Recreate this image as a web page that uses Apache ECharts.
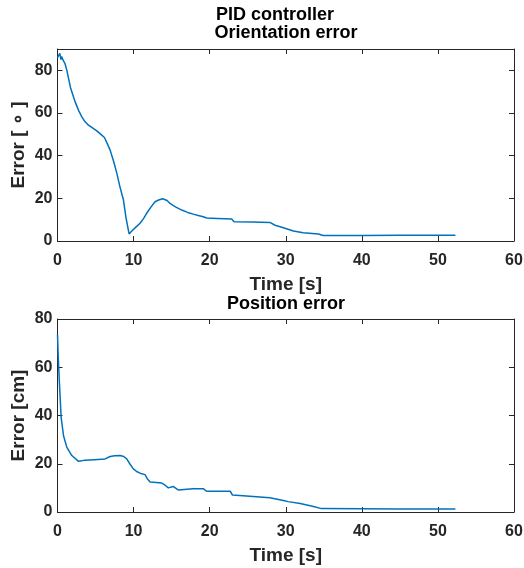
<!DOCTYPE html>
<html>
<head>
<meta charset="utf-8">
<script src="https://cdn.jsdelivr.net/npm/echarts@6/dist/echarts.min.js"></script>
<style>
html,body{margin:0;padding:0;background:#fff;}
#c{width:524px;height:568px;}
</style>
</head>
<body>
<div id="c"></div>
<script>
// ---- data ----
const mainTitle = 'PID controller';
const orientTitle = 'Orientation error';
const posTitle = 'Position error';
const xName = 'Time [s]';
const orientYName = 'Error [ \u2218 ]';
const posYName = 'Error [cm]';

const orientTime = [0, 0.15, 0.3, 0.45, 0.55, 0.7, 0.88, 1.0, 1.23, 1.7, 2.32, 2.8, 3.2, 3.6, 4.07, 4.6, 5.17, 5.7, 6.17, 6.5, 6.92, 7.4, 7.8, 8.2, 8.67, 9.0, 9.41, 9.8, 10.3, 10.85, 11.3, 11.72, 12.3, 12.82, 13.3, 13.83, 14.0, 14.4, 14.79, 15.5, 16.33, 17.1, 17.85, 18.5, 19.16, 19.6, 21.0, 22.89, 23.2, 25.7, 27.9, 28.6, 29.7, 31.0, 32.3, 34.3, 34.9, 40, 45, 52.3];
const orientErr = [86, 85.5, 88, 85, 86.5, 85, 84.7, 83, 80, 72, 65.2, 61, 58.2, 56, 54.3, 53, 51.6, 50, 48.5, 46, 42.6, 37, 31.7, 25.5, 19.2, 11, 3.3, 4.8, 6.5, 8.3, 10.5, 13, 16, 18.4, 19.2, 19.8, 20.1, 19, 17.6, 16, 14.5, 13.4, 12.6, 12, 11.4, 10.8, 10.6, 10.3, 9.0, 8.9, 8.7, 7.4, 6.2, 4.7, 3.9, 3.3, 2.6, 2.6, 2.7, 2.7];

const posTime = [0, 0.1, 0.26, 0.48, 0.79, 1.23, 1.88, 2.76, 3.5, 4.3, 5.3, 6.26, 6.92, 7.5, 8.23, 8.7, 9.1, 9.5, 9.97, 10.4, 10.85, 11.5, 11.8, 12.17, 13.0, 13.7, 14.1, 14.57, 15.2, 15.9, 17.0, 17.85, 19.2, 19.6, 22.7, 23.0, 24.85, 27.9, 29.7, 30.3, 31.9, 33.5, 34.7, 40, 45, 52.3];
const posErr = [73.6, 64, 52.9, 39.2, 31.6, 26.8, 23.4, 21.0, 21.4, 21.6, 21.8, 22.0, 23.0, 23.3, 23.4, 23.0, 22.0, 20.0, 17.9, 16.8, 16.1, 15.5, 13.8, 12.4, 12.2, 12.0, 11.2, 10.0, 10.6, 9.1, 9.4, 9.6, 9.6, 8.6, 8.6, 7.0, 6.6, 5.9, 4.8, 4.3, 3.5, 2.4, 1.4, 1.3, 1.2, 1.2];

const xTicks = [0, 10, 20, 30, 40, 50, 60];
const orientYTicks = [0, 20, 40, 60, 80];
const posYTicks = [0, 20, 40, 60, 80];

// ---- chart ----
const FONT = '"Liberation Sans", Arial, sans-serif';
const AX = '#262626';
const LINE = '#0072BD';

function pairs(xs, ys) { return xs.map((x, i) => [x, ys[i]]); }

function xAxes(grid) {
  const base = {
    type: 'value', gridIndex: grid, min: xTicks[0], max: xTicks[xTicks.length - 1], interval: 10,
    splitLine: { show: false },
    axisLine: { show: true, onZero: false, lineStyle: { color: AX, width: 1 } },
    axisTick: { show: true, inside: true, length: 5, lineStyle: { color: AX }, customValues: xTicks }
  };
  return [
    Object.assign({}, base, {
      position: 'bottom',
      name: xName, nameLocation: 'middle', nameGap: 34,
      nameTextStyle: { fontFamily: FONT, fontWeight: 'bold', fontSize: 19, color: AX },
      axisLabel: { fontFamily: FONT, fontWeight: 'bold', fontSize: 16, color: AX, margin: 12, customValues: xTicks }
    }),
    Object.assign({}, base, { position: 'top', axisLabel: { show: false } })
  ];
}
function yAxes(grid, max, ticks, name) {
  const base = {
    type: 'value', gridIndex: grid, min: 0, max: max,
    splitLine: { show: false },
    axisLine: { show: true, onZero: false, lineStyle: { color: AX, width: 1 } },
    axisTick: { show: true, inside: true, length: 5, lineStyle: { color: AX }, customValues: ticks }
  };
  return [
    Object.assign({}, base, {
      position: 'left',
      name: name, nameLocation: 'middle', nameGap: 29, nameMoveOverlap: false,
      nameTextStyle: { fontFamily: FONT, fontWeight: 'bold', fontSize: 19, color: AX },
      axisLabel: { fontFamily: FONT, fontWeight: 'bold', fontSize: 16, color: AX, margin: 5, customValues: ticks }
    }),
    Object.assign({}, base, { position: 'right', axisLabel: { show: false } })
  ];
}

const chart = echarts.init(document.getElementById('c'), null, { renderer: 'canvas' });
const tStyle = { fontFamily: FONT, fontWeight: 'bold', fontSize: 18, color: '#000' };
chart.setOption({
  animation: false,
  backgroundColor: '#fff',
  title: [
    { text: mainTitle, left: 275, top: 6, textAlign: 'center', textStyle: tStyle, padding: 0 },
    { text: orientTitle, left: 286, top: 24, textAlign: 'center', textStyle: tStyle, padding: 0 },
    { text: posTitle, left: 286, top: 295, textAlign: 'center', textStyle: tStyle, padding: 0 }
  ],
  grid: [
    { left: 57.5, right: 10, top: 49, height: 192, containLabel: false, outerBoundsMode: 'none' },
    { left: 57.5, right: 10, top: 319, height: 193, containLabel: false, outerBoundsMode: 'none' }
  ],
  xAxis: xAxes(0).concat(xAxes(1)),
  yAxis: yAxes(0, 90, orientYTicks, orientYName).concat(yAxes(1, 80, posYTicks, posYName)),
  series: [
    { type: 'line', xAxisIndex: 0, yAxisIndex: 0, data: pairs(orientTime, orientErr), showSymbol: false, symbol: 'none',
      lineStyle: { color: LINE, width: 1.5 } },
    { type: 'line', xAxisIndex: 2, yAxisIndex: 2, data: pairs(posTime, posErr), showSymbol: false, symbol: 'none',
      lineStyle: { color: LINE, width: 1.5 } }
  ]
});
</script>
</body>
</html>
